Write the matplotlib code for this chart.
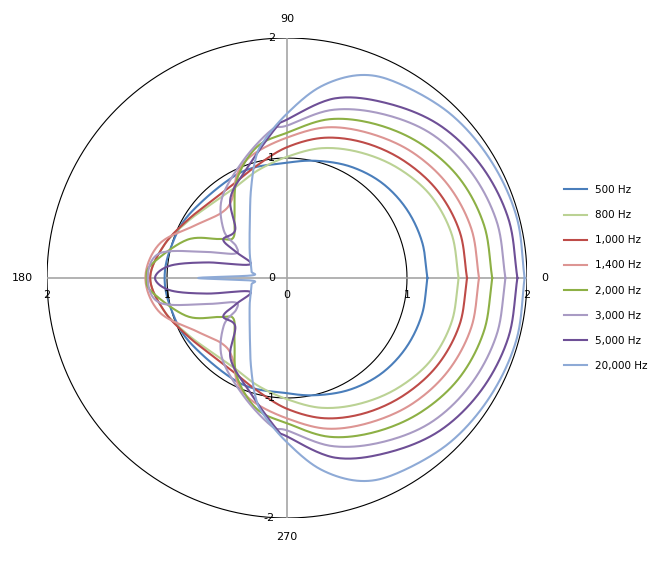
import matplotlib
matplotlib.use("Agg")
import matplotlib.pyplot as plt
import numpy as np

# frequency series, upper half (0..180 deg), mirrored for the lower half
labels = ["500 Hz", "800 Hz", "1,000 Hz", "1,400 Hz", "2,000 Hz", "3,000 Hz", "5,000 Hz", "20,000 Hz"]
colors = ["#4A7EBB", "#BBD294", "#BE4B48", "#DD9593", "#8DB045", "#A99BC4", "#6E4F96", "#8EAAD6"]

ang_500 = [0, 15, 30, 45, 60, 75, 90, 114, 146, 165, 180]
r_500 = [1.17, 1.165, 1.15, 1.12, 1.07, 1.01, 0.96, 0.96, 0.97, 1.0, 1.02]

ang_800 = [0, 15, 30, 45, 60, 75, 90, 105, 120, 135, 150, 165, 180]
r_800 = [1.43, 1.42, 1.38, 1.3, 1.21, 1.12, 1.01, 0.93, 0.87, 0.88, 0.95, 1.06, 1.14]

ang_1000 = [0, 15, 30, 45, 60, 75, 90, 105, 120, 135, 150, 165, 180]
r_1000 = [1.5, 1.49, 1.45, 1.38, 1.3, 1.21, 1.09, 0.97, 0.9, 0.9, 0.96, 1.06, 1.14]

ang_1400 = [0, 15, 30, 45, 60, 75, 90, 105, 115, 125, 135, 150, 165, 180]
r_1400 = [1.6, 1.59, 1.55, 1.48, 1.39, 1.3, 1.17, 1.07, 0.97, 0.8, 0.77, 0.88, 1.1, 1.18]

ang_2000 = [0, 15, 30, 45, 60, 75, 90, 103, 117, 130, 143, 150, 159, 174, 180]
r_2000 = [1.71, 1.7, 1.66, 1.58, 1.48, 1.37, 1.21, 1.12, 0.92, 0.68, 0.56, 0.65, 0.89, 1.13, 1.17]

ang_3000 = [0, 15, 30, 45, 60, 75, 90, 96, 110, 129, 143, 148, 155, 162, 169, 180]
r_3000 = [1.82, 1.81, 1.77, 1.7, 1.58, 1.45, 1.27, 1.24, 1.05, 0.86, 0.66, 0.5, 0.48, 0.7, 1.08, 1.16]

ang_5000 = [0, 15, 30, 45, 60, 75, 90, 94, 108, 125, 137, 149, 153, 160, 169, 174, 180]
r_5000 = [1.92, 1.91, 1.87, 1.8, 1.68, 1.55, 1.32, 1.26, 1.0, 0.82, 0.59, 0.62, 0.47, 0.33, 0.68, 0.98, 1.1]

ang_20000 = [0, 15, 30, 45, 60, 70, 80, 90, 100, 105, 112, 121, 143, 160, 170, 176, 180]
r_20000 = [1.98, 1.98, 1.96, 1.93, 1.87, 1.8, 1.62, 1.37, 1.15, 1.02, 0.8, 0.6, 0.39, 0.32, 0.3, 0.3, 0.74]

series = [(ang_500, r_500), (ang_800, r_800), (ang_1000, r_1000), (ang_1400, r_1400),
          (ang_2000, r_2000), (ang_3000, r_3000), (ang_5000, r_5000), (ang_20000, r_20000)]


def smooth(x, y, n=20):
    # catmull-rom like excel's smoothed line
    px = np.concatenate([[2 * x[0] - x[1]], x, [2 * x[-1] - x[-2]]])
    py = np.concatenate([[2 * y[0] - y[1]], y, [2 * y[-1] - y[-2]]])
    t = np.linspace(0, 1, n, endpoint=False)
    ox, oy = [], []
    for i in range(1, len(px) - 2):
        for p, o in ((px, ox), (py, oy)):
            p0, p1, p2, p3 = p[i - 1], p[i], p[i + 1], p[i + 2]
            o.extend(0.5 * (2 * p1 + (-p0 + p2) * t + (2 * p0 - 5 * p1 + 4 * p2 - p3) * t ** 2
                            + (-p0 + 3 * p1 - 3 * p2 + p3) * t ** 3))
    ox.append(x[-1]); oy.append(y[-1])
    return np.array(ox), np.array(oy)


fig = plt.figure(figsize=(6.67, 5.63), dpi=100)
ax = fig.add_axes([47 / 667, 45 / 563, 480 / 667, 480 / 563])
ax.set_xlim(-2, 2)
ax.set_ylim(-2, 2)
ax.axis("off")

# grid circles and axes
th = np.linspace(0, 2 * np.pi, 400)
for rad in (1, 2):
    ax.plot(rad * np.cos(th), rad * np.sin(th), color="black", lw=0.8, zorder=1)
ax.plot([-2, 2], [0, 0], color="#A6A6A6", lw=1.2, zorder=1)
ax.plot([0, 0], [-2, 2], color="#A6A6A6", lw=1.2, zorder=1)

for (a, r), lab, c in zip(series, labels, colors):
    a = np.array(a, dtype=float)
    r = np.array(r, dtype=float)
    full_a = np.concatenate([a, 360 - a[::-1][1:]])
    full_r = np.concatenate([r, r[::-1][1:]])
    x = full_r * np.cos(np.radians(full_a))
    y = full_r * np.sin(np.radians(full_a))
    sx, sy = smooth(x, y)
    ax.plot(sx, sy, color=c, lw=1.5, label=lab, zorder=2)

fs = 8
ax.text(0, 2.12, "90", ha="center", va="bottom", fontsize=fs)
ax.text(0, -2.12, "270", ha="center", va="top", fontsize=fs)
ax.text(-2.12, 0, "180", ha="right", va="center", fontsize=fs)
ax.text(2.12, 0, "0", ha="left", va="center", fontsize=fs)
for v, s in ((2, "2"), (1, "1"), (0, "0"), (-1, "-1"), (-2, "-2")):
    ax.text(-0.1, v, s, ha="right", va="center", fontsize=fs)
for v, s in ((-2, "2"), (-1, "1"), (1, "1"), (2, "2")):
    ax.text(v, -0.1, s, ha="center", va="top", fontsize=fs)
ax.text(0, -0.1, "0", ha="center", va="top", fontsize=fs)

leg = ax.legend(loc="center left", bbox_to_anchor=(2.23, 0), bbox_transform=ax.transData,
                frameon=False, fontsize=7.5, labelspacing=1.45, handlelength=2.2)

fig.savefig("out.png", dpi=100)
